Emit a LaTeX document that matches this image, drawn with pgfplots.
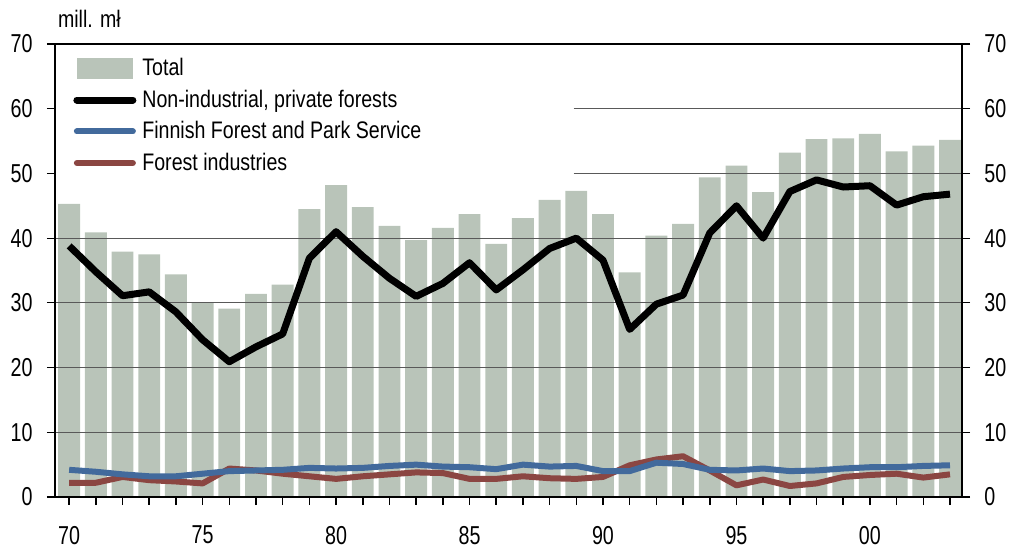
\documentclass[border=0pt]{standalone}
\usepackage{pgfplots}
\pgfplotsset{compat=1.18}
\usepackage{fontspec}
\setmainfont{Liberation Sans}[FakeStretch=0.82]
\newfontfamily\tickfont{Liberation Sans}[FakeStretch=0.76]
\definecolor{barc}{RGB}{185,196,185}
\definecolor{nblue}{RGB}{66,106,156}
\definecolor{nred}{RGB}{139,70,66}
\pgfplotsset{
  legline/.style={legend image code/.code={\draw[##1] (0bp,0bp) -- (28bp,0bp);}},
  legbar/.style={legend image code/.code={\fill[barc] (0bp,-5.25bp) rectangle (28bp,5.25bp);}},
  base/.style={
    scale only axis,
    width=453.5bp, height=226.5bp,
    xmin=69.47, xmax=103.45,
    ymin=0, ymax=70,
    ytick={0,10,...,70},
    tick align=outside,
    major tick length=4bp,
    major tick style={draw=black, line width=0.6bp},
    axis line style={black, line width=1.3bp},
    /pgf/number format/assume math mode=true,
    tick label style={font=\tickfont\fontsize{13}{15}\selectfont},
    yticklabel style={inner xsep=7bp},
  },
}

\begin{document}
\begin{tikzpicture}
\path[use as bounding box] (-27.5bp,-27bp) rectangle (480bp,248.5bp);
\begin{axis}[
  base,
  clip=false,
  axis x line*=bottom,
  axis y line*=left,
  xtick={70,...,103},
  xticklabels={70,,,,,75,,,,,80,,,,,85,,,,,90,,,,,95,,,,,00,,,},
  xticklabel style={yshift=-7bp},
  legend cell align=left,
  legend style={draw=none, fill=none, at={(0,1)}, anchor=north west,
    xshift=6bp, yshift=-3bp,
    font=\fontsize{12}{13}\selectfont,
    row sep=1.6bp, column sep=1bp},
]
% Total
\addplot[ybar, bar width=0.82, fill=barc, draw=none, legbar]
  coordinates {
  (70,45.3) (71,40.9) (72,37.9) (73,37.5) (74,34.4) (75,30.1) (76,29.1)
  (77,31.4) (78,32.8) (79,44.5) (80,48.2) (81,44.8) (82,41.9) (83,39.7)
  (84,41.6) (85,43.7) (86,39.1) (87,43.1) (88,45.9) (89,47.3) (90,43.7)
  (91,34.7) (92,40.4) (93,42.2) (94,49.4) (95,51.2) (96,47.1) (97,53.2)
  (98,55.3) (99,55.4) (100,56.1) (101,53.4) (102,54.3) (103,55.2)};
\addlegendentry{Total}
\addlegendimage{black, line width=3.5bp, line cap=round, legline}
\addlegendentry{Non-industrial, private forests}
\addlegendimage{nblue, line width=3bp, line cap=round, legline}
\addlegendentry{Finnish Forest and Park Service}
\addlegendimage{nred, line width=3bp, line cap=round, legline}
\addlegendentry{Forest industries}

% grid lines over the bars
\foreach \g in {10,20,30,40} {
  \edef\temp{\noexpand\draw[black!65, line width=0.6bp] (axis cs:69.47,\g) -- (axis cs:103.45,\g);}
  \temp
}
\foreach \g in {50,60} {
  \edef\temp{\noexpand\draw[black!65, line width=0.6bp] (axis cs:88.9,\g) -- (axis cs:103.45,\g);}
  \temp
}
\draw[black, line width=0.6bp] (axis cs:69.47,70) -- (axis cs:103.45,70);
% yearly ticks below the x axis
\foreach \t in {70,...,103} {
  \edef\temp{\noexpand\draw[black, line width=0.8bp] (axis cs:\t,0) -- (axis cs:\t,-1.3);}
  \temp
}

% Forest industries
\addplot[nred, line width=3bp, line join=round, forget plot] coordinates {
  (70,2.2) (71,2.2) (72,3.1) (73,2.6) (74,2.4) (75,2.1) (76,4.4)
  (77,4.1) (78,3.6) (79,3.2) (80,2.8) (81,3.2) (82,3.5) (83,3.8)
  (84,3.7) (85,2.8) (86,2.8) (87,3.2) (88,2.9) (89,2.8) (90,3.1)
  (91,4.9) (92,5.8) (93,6.3) (94,4.1) (95,1.8) (96,2.7) (97,1.7)
  (98,2.1) (99,3.1) (100,3.4) (101,3.6) (102,3.0) (103,3.5)};
% Finnish Forest and Park Service
\addplot[nblue, line width=3bp, line join=round, forget plot] coordinates {
  (70,4.2) (71,3.9) (72,3.5) (73,3.2) (74,3.2) (75,3.6) (76,4.0)
  (77,4.1) (78,4.2) (79,4.5) (80,4.4) (81,4.5) (82,4.8) (83,5.0)
  (84,4.7) (85,4.6) (86,4.3) (87,5.0) (88,4.7) (89,4.8) (90,4.0)
  (91,4.0) (92,5.3) (93,5.1) (94,4.2) (95,4.1) (96,4.4) (97,4.0)
  (98,4.1) (99,4.4) (100,4.6) (101,4.6) (102,4.8) (103,4.9)};
% Non-industrial, private forests
\addplot[black, line width=3.5bp, line join=round, forget plot] coordinates {
  (70,38.8) (71,34.8) (72,31.1) (73,31.7) (74,28.6) (75,24.3) (76,20.9)
  (77,23.2) (78,25.2) (79,36.9) (80,41.0) (81,37.2) (82,33.8) (83,31.0)
  (84,33.0) (85,36.2) (86,32.0) (87,35.1) (88,38.4) (89,40.0) (90,36.6)
  (91,25.9) (92,29.8) (93,31.2) (94,40.8) (95,45.0) (96,40.0) (97,47.2)
  (98,49.0) (99,47.9) (100,48.1) (101,45.1) (102,46.4) (103,46.8)};

% frame: left, bottom, right
\draw[black, line width=1.3bp, line cap=rect]
  (rel axis cs:0,1) -- (rel axis cs:0,0) -- (rel axis cs:1,0) -- (rel axis cs:1,1);

\node[anchor=base west, font=\fontsize{12}{13}\selectfont]
  at (rel axis cs:0,1) [xshift=-2bp, yshift=8bp] {mill. mł};
\end{axis}
% right-hand scale
\begin{axis}[
  base,
  axis x line=none,
  axis y line*=right,
]
\end{axis}
\end{tikzpicture}
\end{document}
